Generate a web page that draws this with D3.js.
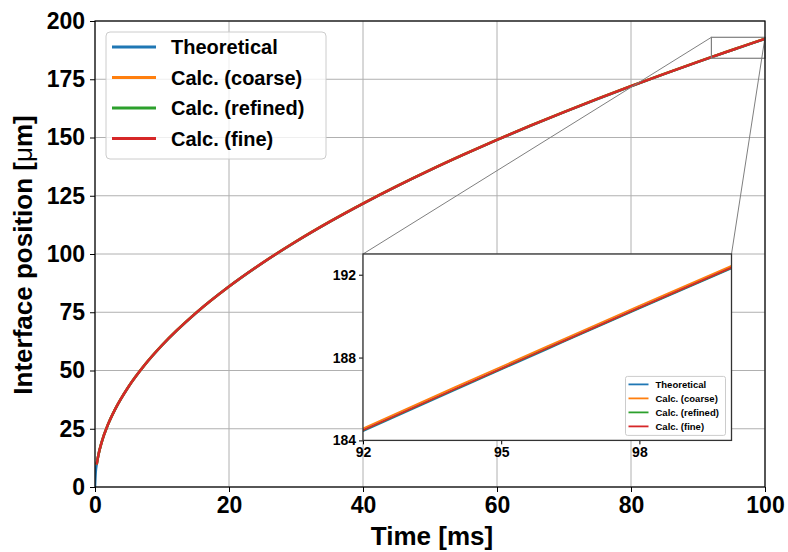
<!DOCTYPE html>
<html>
<head>
    <meta charset="utf-8">
    <title>Interface position</title>
    <script src="https://d3js.org/d3.v7.min.js"></script>
    <style>
        body { margin: 0; background: white; }
        text { font-family: "Liberation Sans", Arial, sans-serif; }
    </style>
</head>
<body>
<div id="chart"></div>
<script>
    // Values
    const timeMs = [0, 0.1, 0.25, 0.5, 1, 2, 3, 5, 7.5, 10, 15, 20, 25, 30, 35, 40, 45, 50,
        55, 60, 65, 70, 75, 80, 85, 90, 92, 94, 96, 98, 100];
    const theoretical = [0, 6.08, 9.62, 13.60, 19.23, 27.20, 33.31, 43.00, 52.66, 60.81, 74.48,
        86.00, 96.15, 105.33, 113.77, 121.62, 129.00, 135.98, 142.61, 148.96, 155.04, 160.89,
        166.54, 172.00, 177.29, 182.43, 184.45, 186.44, 188.41, 190.37, 192.30];
    const calcCoarse = [null, null, 9.68, 13.68, 19.30, 27.28, 33.40, 43.09, 52.75, 60.90, 74.57,
        86.09, 96.24, 105.42, 113.86, 121.71, 129.09, 136.08, 142.71, 149.07, 155.15, 161.00,
        166.66, 172.12, 177.41, 182.55, 184.58, 186.57, 188.54, 190.50, 192.43];
    const calcRefined = [null, null, 9.64, 13.62, 19.25, 27.22, 33.33, 43.02, 52.68, 60.83, 74.50,
        86.02, 96.17, 105.35, 113.79, 121.64, 129.02, 136.00, 142.63, 148.99, 155.07, 160.92,
        166.57, 172.03, 177.32, 182.46, 184.48, 186.47, 188.44, 190.40, 192.33];
    const calcFine = [null, null, 9.65, 13.63, 19.26, 27.23, 33.34, 43.03, 52.69, 60.84, 74.51,
        86.03, 96.18, 105.36, 113.80, 121.65, 129.03, 136.01, 142.64, 149.00, 155.08, 160.93,
        166.58, 172.04, 177.33, 182.47, 184.49, 186.48, 188.45, 190.41, 192.34];

    const seriesNames = ["Theoretical", "Calc. (coarse)", "Calc. (refined)", "Calc. (fine)"];
    const seriesColors = ["#1f77b4", "#ff7f0e", "#2ca02c", "#d62728"];
    const seriesValues = [theoretical, calcCoarse, calcRefined, calcFine];

    const xTicks = [0, 20, 40, 60, 80, 100];
    const yTicks = [0, 25, 50, 75, 100, 125, 150, 175, 200];
    const insetXTicks = [92, 95, 98];
    const insetYTicks = [184, 188, 192];
    const insetXDomain = [92, 100];
    const insetYDomain = [184, 193];

    // Layout
    const W = 788, H = 552;
    const margins = { top: 21, right: 23, bottom: 65, left: 95 };
    const width = W - margins.left - margins.right;
    const height = H - margins.top - margins.bottom;

    const svg = d3.select("#chart").append("svg")
        .attr("width", W)
        .attr("height", H);

    svg.append("rect").attr("width", W).attr("height", H).attr("fill", "white");

    const g = svg.append("g")
        .attr("transform", `translate(${margins.left},${margins.top})`);

    const x = d3.scaleLinear().domain([0, 100]).range([0, width]);
    const y = d3.scaleLinear().domain([0, 200]).range([height, 0]);

    // grid
    g.append("g").selectAll("line").data(xTicks).enter().append("line")
        .attr("x1", d => x(d)).attr("x2", d => x(d))
        .attr("y1", 0).attr("y2", height)
        .attr("stroke", "#b0b0b0").attr("stroke-width", 1);
    g.append("g").selectAll("line").data(yTicks).enter().append("line")
        .attr("y1", d => y(d)).attr("y2", d => y(d))
        .attr("x1", 0).attr("x2", width)
        .attr("stroke", "#b0b0b0").attr("stroke-width", 1);

    const rows = seriesValues.map(vals => timeMs.map((t, i) => ({ t: t, v: vals[i] })));

    g.append("clipPath").attr("id", "mainClip")
        .append("rect").attr("width", width).attr("height", height);

    const line = d3.line()
        .defined(d => d.v !== null)
        .x(d => x(d.t))
        .y(d => y(d.v))
        .curve(d3.curveMonotoneX);

    rows.forEach((r, i) => {
        g.append("path")
            .datum(r)
            .attr("clip-path", "url(#mainClip)")
            .attr("fill", "none")
            .attr("stroke", seriesColors[i])
            .attr("stroke-width", 2.5)
            .attr("d", line);
    });

    // axes
    const xAxis = g.append("g")
        .attr("transform", `translate(0,${height})`)
        .call(d3.axisBottom(x).tickValues(xTicks).tickSize(5).tickPadding(5));
    const yAxis = g.append("g")
        .call(d3.axisLeft(y).tickValues(yTicks).tickSize(5).tickPadding(5));
    [xAxis, yAxis].forEach(a => {
        a.select(".domain").remove();
        a.selectAll("line").attr("stroke", "black");
        a.selectAll("text")
            .attr("fill", "black")
            .style("font-family", "'Liberation Sans', Arial, sans-serif")
            .style("font-size", "23px")
            .style("font-weight", "bold");
    });

    // zoom indicator rectangle + connectors
    const rx0 = x(insetXDomain[0]), rx1 = x(insetXDomain[1]);
    const ry0 = y(insetYDomain[1]), ry1 = y(insetYDomain[0]);
    // inset placed at axes fraction [0.4, 0.1, 0.55, 0.4]
    const ix0 = x(40), ix1 = x(95), iy0 = y(100), iy1 = y(20);

    g.append("rect")
        .attr("x", rx0).attr("y", ry0)
        .attr("width", rx1 - rx0).attr("height", ry1 - ry0)
        .attr("fill", "none").attr("stroke", "#7f7f7f").attr("stroke-width", 1.2);
    g.append("line")
        .attr("x1", rx0).attr("y1", ry0).attr("x2", ix0).attr("y2", iy0)
        .attr("stroke", "#7f7f7f").attr("stroke-width", 1);
    g.append("line")
        .attr("x1", rx1).attr("y1", ry0).attr("x2", ix1).attr("y2", iy0)
        .attr("stroke", "#7f7f7f").attr("stroke-width", 1);

    // INSET
    const inset = g.append("g").attr("transform", `translate(${ix0},${iy0})`);
    const iw = ix1 - ix0, ih = iy1 - iy0;
    const xi = d3.scaleLinear().domain(insetXDomain).range([0, iw]);
    const yi = d3.scaleLinear().domain(insetYDomain).range([ih, 0]);

    inset.append("rect").attr("width", iw).attr("height", ih).attr("fill", "white");
    inset.append("clipPath").attr("id", "insetClip")
        .append("rect").attr("width", iw).attr("height", ih);

    const insetLine = d3.line()
        .defined(d => d.v !== null)
        .x(d => xi(d.t))
        .y(d => yi(d.v))
        .curve(d3.curveMonotoneX);

    rows.forEach((r, i) => {
        inset.append("path")
            .datum(r.filter(d => d.t >= 90))
            .attr("clip-path", "url(#insetClip)")
            .attr("fill", "none")
            .attr("stroke", seriesColors[i])
            .attr("stroke-width", 1.8)
            .attr("d", insetLine);
    });

    const ixAxis = inset.append("g")
        .attr("transform", `translate(0,${ih})`)
        .call(d3.axisBottom(xi).tickValues(insetXTicks).tickSize(4).tickPadding(3));
    const iyAxis = inset.append("g")
        .call(d3.axisLeft(yi).tickValues(insetYTicks).tickSize(4).tickPadding(3));
    [ixAxis, iyAxis].forEach(a => {
        a.select(".domain").remove();
        a.selectAll("line").attr("stroke", "black");
        a.selectAll("text")
            .attr("fill", "black")
            .style("font-family", "'Liberation Sans', Arial, sans-serif")
            .style("font-size", "14px")
            .style("font-weight", "bold");
    });

    inset.append("rect").attr("width", iw).attr("height", ih)
        .attr("fill", "none").attr("stroke", "#333").attr("stroke-width", 1.3);

    // inset legend
    const ilg = inset.append("g").attr("transform", `translate(${iw - 106},${ih - 64})`);
    ilg.append("rect")
        .attr("width", 100).attr("height", 59).attr("rx", 2)
        .attr("fill", "white").attr("fill-opacity", 0.8)
        .attr("stroke", "#cccccc").attr("stroke-width", 1);
    seriesNames.forEach((name, i) => {
        const e = ilg.append("g").attr("transform", `translate(0,${8 + i * 14})`);
        e.append("line").attr("x1", 3).attr("x2", 23)
            .attr("stroke", seriesColors[i]).attr("stroke-width", 1.8);
        e.append("text").attr("x", 30).attr("dy", "0.35em")
            .style("font-size", "9.5px").style("font-weight", "bold")
            .attr("fill", "black").text(name);
    });

    // main legend
    const lg = g.append("g").attr("transform", `translate(${106 - margins.left},${32 - margins.top})`);
    lg.append("rect")
        .attr("width", 220).attr("height", 127).attr("rx", 4)
        .attr("fill", "white").attr("fill-opacity", 0.8)
        .attr("stroke", "#cccccc").attr("stroke-width", 1);
    seriesNames.forEach((name, i) => {
        const e = lg.append("g").attr("transform", `translate(0,${15 + i * 30.5})`);
        e.append("line").attr("x1", 6).attr("x2", 50)
            .attr("stroke", seriesColors[i]).attr("stroke-width", 3);
        e.append("text").attr("x", 65).attr("dy", "0.35em")
            .style("font-size", "20px").style("font-weight", "bold")
            .attr("fill", "black").text(name);
    });

    // spines
    g.append("rect").attr("width", width).attr("height", height)
        .attr("fill", "none").attr("stroke", "black").attr("stroke-width", 1.2);

    // axis labels
    svg.append("text")
        .attr("x", margins.left + width / 2 + 2)
        .attr("y", 545)
        .attr("text-anchor", "middle")
        .style("font-size", "26px").style("font-weight", "bold")
        .text("Time [ms]");

    const yl = svg.append("text")
        .attr("transform", `translate(32,255) rotate(-90)`)
        .attr("text-anchor", "middle")
        .style("font-size", "26px").style("font-weight", "bold");
    yl.append("tspan").text("Interface position [");
    yl.append("tspan").style("font-weight", "normal").text("μ");
    yl.append("tspan").text("m]");
</script>
</body>
</html>
